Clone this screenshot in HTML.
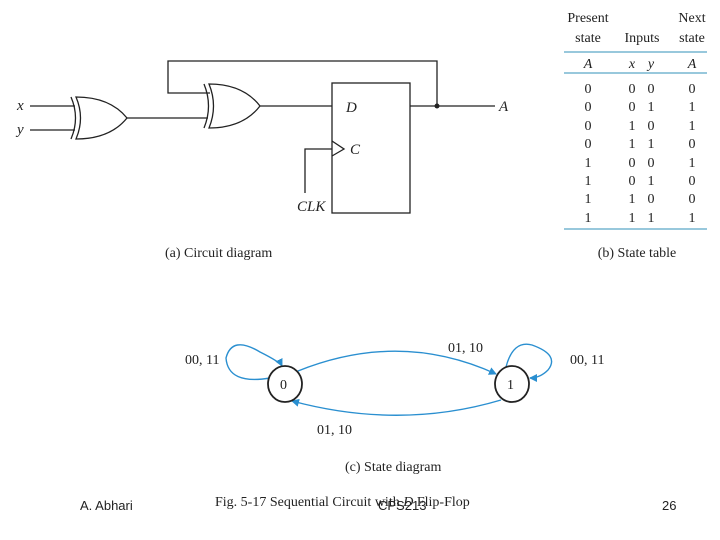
<!DOCTYPE html>
<html><head><style>
html,body{margin:0;padding:0;background:#fff;width:720px;height:540px;overflow:hidden}
svg{display:block}
.s{font-family:"Liberation Serif",serif;fill:#222}
.a{font-family:"Liberation Sans",sans-serif;fill:#222}
</style></head><body>
<svg width="720" height="540" viewBox="0 0 720 540" xmlns="http://www.w3.org/2000/svg">
<defs><marker id="ar" markerWidth="8" markerHeight="8" refX="7" refY="4" orient="auto" markerUnits="userSpaceOnUse"><path d="M0,0 L8,4 L0,8 Z" fill="#2a8fd0"/></marker></defs>
<g stroke="#222" stroke-width="1.3" fill="none">
<line x1="30" y1="106" x2="75" y2="106"/><line x1="30" y1="130" x2="75" y2="130"/>
<path d="M71,97 Q80,118 71,139"/>
<path d="M76,97 Q85,118 76,139 Q110,139 127,118 Q110,97 76,97 Z"/>
<line x1="127" y1="118" x2="208" y2="118"/>
<path d="M204,84 Q213,106 204,128"/>
<path d="M209,84 Q218,106 209,128 Q243,128 260,106 Q243,84 209,84 Z"/>
<polyline points="210,93 168,93 168,61 437,61 437,106"/>
<line x1="260" y1="106" x2="332" y2="106"/>
<rect x="332" y="83" width="78" height="130"/>
<line x1="410" y1="106" x2="495" y2="106"/>
<polyline points="332,141 344,149 332,156"/>
<polyline points="332,149 305,149 305,193"/>
</g>
<circle cx="437" cy="106" r="2.5" fill="#222"/>
<g class="s" font-style="italic" font-size="15">
<text x="17" y="110">x</text><text x="17" y="134">y</text>
<text x="346" y="112">D</text><text x="350" y="154">C</text>
<text x="297" y="211">CLK</text><text x="499" y="111">A</text>
</g>
<text class="s" x="165" y="257" font-size="14">(a) Circuit diagram</text>
<g class="s" font-size="14" text-anchor="middle">
<text x="588" y="22">Present</text><text x="588" y="42">state</text>
<text x="642" y="42">Inputs</text>
<text x="692" y="22">Next</text><text x="692" y="42">state</text>
<text x="588" y="68" font-style="italic">A</text><text x="632" y="68" font-style="italic">x</text><text x="651" y="68" font-style="italic">y</text><text x="692" y="68" font-style="italic">A</text>
</g>
<g stroke="#5aa8c8" stroke-width="1.3"><line x1="564" y1="52" x2="707" y2="52"/><line x1="564" y1="73" x2="707" y2="73"/><line x1="564" y1="229" x2="707" y2="229"/></g>
<g class="s" font-size="14" text-anchor="middle">
<text x="588" y="93">0</text><text x="632" y="93">0</text><text x="651" y="93">0</text><text x="692" y="93">0</text>
<text x="588" y="111">0</text><text x="632" y="111">0</text><text x="651" y="111">1</text><text x="692" y="111">1</text>
<text x="588" y="130">0</text><text x="632" y="130">1</text><text x="651" y="130">0</text><text x="692" y="130">1</text>
<text x="588" y="148">0</text><text x="632" y="148">1</text><text x="651" y="148">1</text><text x="692" y="148">0</text>
<text x="588" y="167">1</text><text x="632" y="167">0</text><text x="651" y="167">0</text><text x="692" y="167">1</text>
<text x="588" y="185">1</text><text x="632" y="185">0</text><text x="651" y="185">1</text><text x="692" y="185">0</text>
<text x="588" y="203">1</text><text x="632" y="203">1</text><text x="651" y="203">0</text><text x="692" y="203">0</text>
<text x="588" y="222">1</text><text x="632" y="222">1</text><text x="651" y="222">1</text><text x="692" y="222">1</text>
</g>
<text class="s" x="637" y="257" font-size="14" text-anchor="middle">(b) State table</text>
<g stroke="#2a8fd0" stroke-width="1.4" fill="none">
<path d="M298,371 Q400,330 496,374" marker-end="url(#ar)"/>
<path d="M501,400 Q400,430 292,401" marker-end="url(#ar)"/>
<path d="M270,378 Q228,385 226,358 Q232,335 260,352 Q280,362 282,366" marker-end="url(#ar)"/>
<path d="M506,367 Q513,340 532,345 Q560,355 548,370 Q540,378 530,378" marker-end="url(#ar)"/>
</g>
<g stroke="#222" stroke-width="1.8" fill="#fff"><ellipse cx="285" cy="384" rx="17" ry="18"/><ellipse cx="512" cy="384" rx="17" ry="18"/></g>
<g class="s" font-size="14">
<text x="280" y="389">0</text><text x="507" y="389">1</text>
<text x="185" y="364">00, 11</text><text x="570" y="364">00, 11</text>
<text x="448" y="352">01, 10</text><text x="317" y="434">01, 10</text>
<text x="345" y="471">(c) State diagram</text>
<text x="215" y="506">Fig. 5-17  Sequential Circuit with <tspan font-style="italic">D</tspan> Flip-Flop</text>
</g>
<text class="a" x="80" y="510" font-size="13">A. Abhari</text>
<text class="a" x="378" y="510" font-size="13">CPS213</text>
<text class="a" x="662" y="510" font-size="13">26</text>
</svg>
</body></html>
